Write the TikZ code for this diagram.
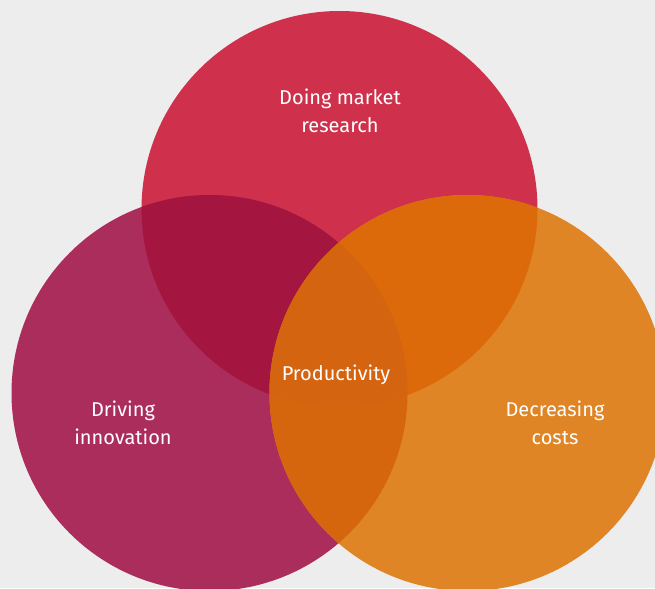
\documentclass[tikz,border=0pt]{standalone}
\usepackage{fontspec}
\setmainfont{Fira Sans}

\definecolor{bgGrey}{HTML}{EDEDED}
\definecolor{researchRed}{HTML}{CF314C}
\definecolor{innovPlum}{HTML}{AB2D5B}
\definecolor{costOrange}{HTML}{E08526}
\definecolor{redPlum}{HTML}{A41540}
\definecolor{redOrange}{HTML}{DC6A0B}
\definecolor{plumOrange}{HTML}{D6660E}
\definecolor{allThree}{HTML}{D4640F}

\tikzset{every picture/.style={line width=0.75pt}}
\tikzset{label/.style={text=white, font=\fontsize{15}{21}\selectfont, align=center}}

\begin{document}
\begin{tikzpicture}[x=0.75pt,y=0.75pt,yscale=-1,xscale=1]
	%Background
	\fill[bgGrey] (0,0) rectangle (655,588);
	\useasboundingbox (0,0) rectangle (655,588);
	\clip (0,0) rectangle (655,588);

	%Shape: Circle [top]
	\fill[researchRed] (339.5,209) circle (198);
	%Shape: Circle [left]
	\fill[innovPlum] (209.5,393) circle (198);
	%Shape: Circle [right]
	\fill[costOrange] (467.5,393) circle (198);

	%Overlap top / left
	\begin{scope}
		\clip (339.5,209) circle (198);
		\fill[redPlum] (209.5,393) circle (198);
	\end{scope}
	%Overlap top / right
	\begin{scope}
		\clip (339.5,209) circle (198);
		\fill[redOrange] (467.5,393) circle (198);
	\end{scope}
	%Overlap left / right
	\begin{scope}
		\clip (209.5,393) circle (198);
		\fill[plumOrange] (467.5,393) circle (198);
	\end{scope}
	%Overlap all three
	\begin{scope}
		\clip (339.5,209) circle (198);
		\clip (209.5,393) circle (198);
		\fill[allThree] (467.5,393) circle (198);
	\end{scope}

	% Text Node
	\node[label] (research) at (340,111) {Doing market\\research};
	% Text Node
	\node[label] (innovation) at (123,423) {Driving\\innovation};
	% Text Node
	\node[label] (costs) at (555,423) {Decreasing\\costs};
	% Text Node
	\node[label] (productivity) at (336,375) {Productivity};

\end{tikzpicture}
\end{document}
